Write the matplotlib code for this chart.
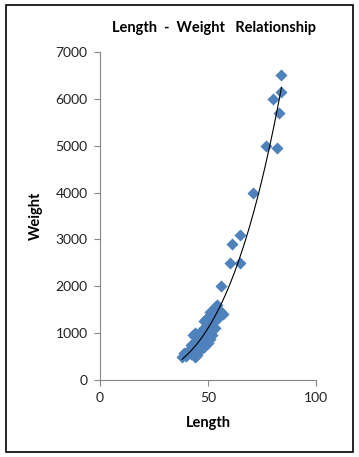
import matplotlib
matplotlib.use("Agg")
import matplotlib.pyplot as plt
from matplotlib.patches import Rectangle
import numpy as np

plt.rcParams["font.family"] = ["Lato", "DejaVu Sans"]

# length / weight samples
length = [38, 40, 42, 44, 45, 41, 43, 46, 47, 42, 44, 45, 47, 48, 46, 49,
          50, 48, 51, 52, 50, 49, 52, 53, 51, 54, 55, 53, 54, 56, 57, 50,
          52, 48, 46, 44, 43, 47, 49, 51, 39, 41, 43, 45, 47, 49, 51, 53,
          55, 50, 48,
          56, 60, 61, 65, 65, 71, 77, 82, 83, 80, 84, 84]
weight = [500, 520, 550, 500, 540, 650, 700, 620, 750, 750, 820, 900, 850,
          950, 1000, 900, 1050, 1100, 1000, 1150, 1200, 1300, 1300, 1250,
          1450, 1400, 1500, 1550, 1600, 1450, 1400, 800, 950, 700, 800, 1000,
          950, 1050, 1150, 1250, 580, 600, 620, 700, 680, 820, 880, 1100,
          1350, 1350, 1250,
          2000, 2500, 2900, 2500, 3100, 4000, 5000, 4950, 5700, 6000, 6150, 6500]

title = "Length  -  Weight   Relationship"
xlabel = "Length"
ylabel = "Weight"

fig = plt.figure(figsize=(3.59, 4.57), dpi=100)
ax = fig.add_axes([0.2786, 0.1685, 0.6017, 0.7177])

ax.scatter(length, weight, marker="D", s=38, color="#4F81BD", zorder=3,
           linewidths=0)

# power trendline, like excel
L = np.array(length, dtype=float)
W = np.array(weight, dtype=float)
b, lna = np.polyfit(np.log(L), np.log(W), 1)
xs = np.linspace(L.min(), L.max(), 200)
ax.plot(xs, np.exp(lna) * xs ** b, color="black", lw=0.8, zorder=4)

ax.set_xlim(0, 100)
ax.set_ylim(0, 7000)
ax.set_xticks([0, 50, 100])
ax.set_yticks(range(0, 7001, 1000))

for s in ["top", "right"]:
    ax.spines[s].set_visible(False)
for s in ["left", "bottom"]:
    ax.spines[s].set_color("#868686")
    ax.spines[s].set_linewidth(0.8)
ax.tick_params(direction="out", length=4, width=0.8, color="#868686",
               labelsize=10, labelcolor="#222222", pad=5)

ax.set_xlabel(xlabel, fontsize=10.5, fontweight="bold", labelpad=8)
ax.set_ylabel(ylabel, fontsize=10.5, fontweight="bold", labelpad=9)
fig.text(0.597, 0.938, title, ha="center", va="center", fontsize=10.5,
         fontweight="bold")

fig.patches.append(Rectangle((6 / 359, 5 / 457), 347 / 359, 447 / 457,
                             transform=fig.transFigure, fill=False,
                             edgecolor="black", lw=1.2))

fig.savefig("out.png", dpi=100)
